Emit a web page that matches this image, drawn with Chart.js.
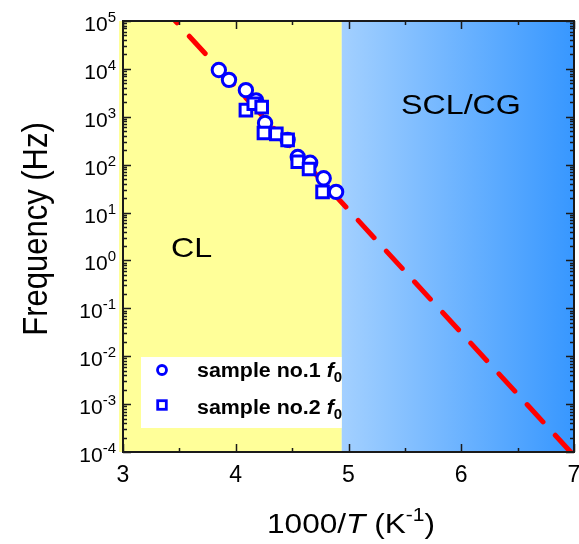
<!DOCTYPE html>
<html>
<head>
<meta charset="utf-8">
<script src="https://cdn.jsdelivr.net/npm/chart.js@4/dist/chart.umd.min.js"></script>
<style>
  html, body { margin: 0; padding: 0; background: #ffffff; }
  canvas { display: block; }
</style>
</head>
<body>
<canvas id="chart" width="579" height="544"></canvas>
<script>
// Characteristic frequency f0 versus 1000/T for the two samples
const sample1X = [3.85, 3.94, 4.09, 4.18, 4.26, 4.46, 4.55, 4.66, 4.78, 4.89];
const sample1F = [9500, 5900, 3600, 2200, 740, 330, 145, 110, 52, 27];
const sample2X = [4.09, 4.16, 4.23, 4.25, 4.36, 4.46, 4.55, 4.65, 4.77];
const sample2F = [1380, 1870, 1590, 460, 440, 330, 115, 81, 27];

// Arrhenius fit, given by its two ends on the plot frame
const fitX = [3.464, 6.97];
const fitF = [1e5, 1e-4];

// Axis ticks and region split
const xTicks = [3, 4, 5, 6, 7];
const yExponents = [5, 4, 3, 2, 1, 0, -1, -2, -3, -4];
const regionBoundary = 4.94;
const regionNames = ['CL', 'SCL/CG'];
const legendNames = ['sample no.1 ', 'sample no.2 '];

const FONT = '"Liberation Sans", Arial, sans-serif';
const BLUE = '#0000ff';

const toPoints = (xs, ys) => xs.map((x, i) => ({ x: x, y: ys[i] }));

// Draw a run of differently styled pieces of text, optionally stretched horizontally
function drawRuns(ctx, parts, x, y, sx, align) {
  ctx.save();
  let total = 0;
  parts.forEach(p => { ctx.font = p.font; p.w = ctx.measureText(p.text).width; total += p.w; });
  ctx.translate(x, y);
  ctx.scale(sx, 1);
  let cx = align === 'center' ? -total / 2 : (align === 'right' ? -total : 0);
  ctx.textAlign = 'left';
  ctx.textBaseline = 'alphabetic';
  parts.forEach(p => {
    ctx.font = p.font;
    ctx.fillText(p.text, cx, p.dy || 0);
    cx += p.w;
  });
  ctx.restore();
}

const decorations = {
  id: 'decorations',
  beforeDatasetsDraw(chart) {
    const { ctx, chartArea: a, scales: { x } } = chart;
    const xb = x.getPixelForValue(regionBoundary);
    ctx.save();
    // CL region
    ctx.fillStyle = '#ffff99';
    ctx.fillRect(a.left - 4, a.top, xb - a.left + 4, a.bottom - a.top);
    // SCL/CG region
    const g = ctx.createLinearGradient(xb, 0, a.right, 0);
    g.addColorStop(0, '#a3d0ff');
    g.addColorStop(1, '#3797ff');
    ctx.fillStyle = g;
    ctx.fillRect(xb, a.top, a.right - xb, a.bottom - a.top);
    ctx.fillStyle = '#000000';
    drawRuns(ctx, [{ text: regionNames[0], font: '28px ' + FONT }], 171, 257, 1.15, 'left');
    drawRuns(ctx, [{ text: regionNames[1], font: '28px ' + FONT }], 401, 114, 1.15, 'left');
    ctx.restore();
  },
  afterDatasetsDraw(chart) {
    const { ctx, chartArea: a, scales: { x, y } } = chart;
    ctx.save();
    ctx.strokeStyle = '#1a1a1a';
    ctx.fillStyle = '#000000';

    // inward ticks on all four sides
    ctx.lineWidth = 1.5;
    ctx.beginPath();
    for (let v = xTicks[0]; v <= xTicks[xTicks.length - 1] + 1e-9; v += 0.5) {
      const px = Math.round(x.getPixelForValue(v)) + 0.5;
      const len = Number.isInteger(v) ? 8 : 4;
      ctx.moveTo(px, a.bottom); ctx.lineTo(px, a.bottom - len);
      ctx.moveTo(px, a.top); ctx.lineTo(px, a.top + len);
    }
    for (let k = -4; k <= 5; k++) {
      for (let m = 1; m <= 9; m++) {
        if (k === 5 && m > 1) break;
        const py = Math.round(y.getPixelForValue(m * Math.pow(10, k))) + 0.5;
        const len = m === 1 ? 8 : 4;
        ctx.moveTo(a.left, py); ctx.lineTo(a.left + len, py);
        ctx.moveTo(a.right, py); ctx.lineTo(a.right - len, py);
      }
    }
    ctx.stroke();

    // frame
    ctx.lineWidth = 2;
    ctx.strokeRect(a.left, a.top, a.right - a.left, a.bottom - a.top);

    // x tick labels
    ctx.font = '23px ' + FONT;
    ctx.textAlign = 'center';
    ctx.textBaseline = 'alphabetic';
    xTicks.forEach(v => ctx.fillText(String(v), x.getPixelForValue(v), 482));

    // y tick labels as powers of ten
    yExponents.forEach(k => {
      const py = y.getPixelForValue(Math.pow(10, k));
      const sup = k < 0 ? '-' + Math.abs(k) : String(k);
      ctx.textAlign = 'right';
      ctx.font = '15px ' + FONT;
      const sw = ctx.measureText(sup).width;
      ctx.fillText(sup, 116, py + 1);
      ctx.font = '21px ' + FONT;
      ctx.fillText('10', 116 - sw, py + 10);
    });

    // axis titles
    drawRuns(ctx, [
      { text: '1000/', font: '27px ' + FONT },
      { text: 'T', font: 'italic 27px ' + FONT },
      { text: ' (K', font: '27px ' + FONT },
      { text: '-1', font: '18px ' + FONT, dy: -12 },
      { text: ')', font: '27px ' + FONT }
    ], 351, 533, 1.17, 'center');

    ctx.save();
    ctx.translate(47, 229);
    ctx.rotate(-Math.PI / 2);
    ctx.scale(1, 1.12);
    ctx.font = '31px ' + FONT;
    ctx.textAlign = 'center';
    ctx.fillText('Frequency (Hz)', 0, 0);
    ctx.restore();

    // legend
    ctx.fillStyle = '#ffffff';
    ctx.fillRect(141, 357, x.getPixelForValue(regionBoundary) - 141, 71);
    ctx.strokeStyle = BLUE;
    ctx.lineWidth = 2.8;
    ctx.beginPath();
    ctx.arc(162, 370, 4.5, 0, Math.PI * 2);
    ctx.stroke();
    ctx.strokeRect(162 - 4.3, 405 - 4.3, 8.6, 8.6);
    ctx.fillStyle = '#000000';
    [377, 414].forEach((by, i) => {
      drawRuns(ctx, [
        { text: legendNames[i], font: 'bold 20px ' + FONT },
        { text: 'f', font: 'italic bold 20px ' + FONT },
        { text: '0', font: 'bold 14px ' + FONT, dy: 5 }
      ], 197, by, 1.07, 'left');
    });
    ctx.restore();
  }
};

new Chart(document.getElementById('chart'), {
  type: 'scatter',
  data: {
    datasets: [
      {
        label: 'fit',
        data: toPoints(fitX, fitF),
        showLine: true,
        borderColor: '#ff0000',
        borderWidth: 5,
        borderDash: [23.5, 18.15],
        borderDashOffset: 21,
        borderCapStyle: 'round',
        pointRadius: 0,
        fill: false,
        order: 3
      },
      {
        label: 'sample no.1 f0',
        data: toPoints(sample1X, sample1F),
        pointStyle: 'circle',
        pointRadius: 6.7,
        pointBorderWidth: 3,
        borderColor: BLUE,
        backgroundColor: '#ffffff',
        order: 2
      },
      {
        label: 'sample no.2 f0',
        data: toPoints(sample2X, sample2F),
        pointStyle: 'rect',
        pointRadius: 8.2,
        pointBorderWidth: 3,
        borderColor: BLUE,
        backgroundColor: '#ffffff',
        order: 1
      }
    ]
  },
  options: {
    responsive: false,
    animation: false,
    devicePixelRatio: 1,
    layout: { autoPadding: false, padding: { left: 123, right: 5, top: 21, bottom: 92 } },
    plugins: { legend: { display: false }, tooltip: { enabled: false } },
    scales: {
      x: { type: 'linear', min: 3, max: 7, display: false },
      y: { type: 'logarithmic', min: 1e-4, max: 1e5, display: false }
    }
  },
  plugins: [decorations]
});
</script>
</body>
</html>
